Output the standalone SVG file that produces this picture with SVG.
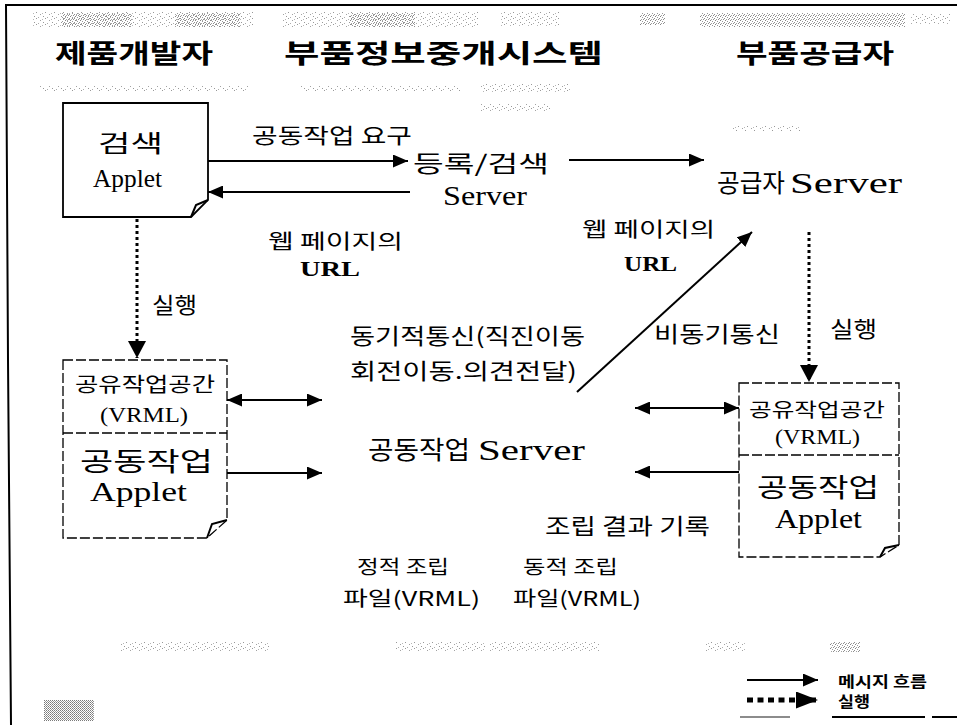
<svg xmlns="http://www.w3.org/2000/svg" width="957" height="725" viewBox="0 0 957 725">
<style>
.k{font-family:'Noto Sans CJK KR','Noto Sans CJK SC',sans-serif;fill:#000;dominant-baseline:central}
.s{font-family:'Liberation Serif','Times New Roman',serif;fill:#000}
.h{font-size:26px;font-weight:700}
.ln{stroke:#000;stroke-width:2;fill:none}
.dot{stroke:#000;stroke-width:3;fill:none;stroke-dasharray:3 3}
.box{fill:#fff;stroke:#000;stroke-width:1.8}
.dbox{fill:#fff;stroke:#000;stroke-width:1.3;stroke-dasharray:10 3}
.nz{fill:url(#noise)}
.nd{fill:url(#noise2)}
</style>
<defs>
<pattern id="noise" width="9" height="6" patternUnits="userSpaceOnUse">
<rect x="0" y="0" width="1" height="1" fill="#555"/>
<rect x="4" y="2" width="1" height="1" fill="#666"/>
<rect x="7" y="4" width="1" height="1" fill="#555"/>
<rect x="2" y="5" width="1" height="1" fill="#777"/>
<rect x="6" y="1" width="1" height="1" fill="#888"/>
</pattern>
<pattern id="noise2" width="5" height="4" patternUnits="userSpaceOnUse">
<rect x="0" y="0" width="1" height="1" fill="#333"/>
<rect x="2" y="1" width="1" height="1" fill="#555"/>
<rect x="4" y="2" width="1" height="1" fill="#444"/>
<rect x="1" y="3" width="1" height="1" fill="#666"/>
<rect x="3" y="3" width="1" height="1" fill="#444"/>
</pattern>
<pattern id="noise3" width="2" height="2" patternUnits="userSpaceOnUse">
<rect x="0" y="0" width="1" height="1" fill="#222"/>
<rect x="1" y="1" width="1" height="1" fill="#555"/>
</pattern>
<marker id="ah" viewBox="0 0 15 13" refX="15" refY="6.5" markerWidth="15" markerHeight="13" markerUnits="userSpaceOnUse" orient="auto-start-reverse">
<path d="M0,0 L15,6.5 L0,13 Z" fill="#000"/>
</marker>
<marker id="dh" viewBox="0 0 17 18" refX="17" refY="9" markerWidth="17" markerHeight="18" markerUnits="userSpaceOnUse" orient="auto">
<path d="M0,0 L17,9 L0,18 Z" fill="#000"/>
</marker>
<marker id="lh" viewBox="0 0 22 17" refX="22" refY="8.5" markerWidth="22" markerHeight="17" markerUnits="userSpaceOnUse" orient="auto">
<path d="M0,0 L22,8.5 L0,17 Z" fill="#000"/>
</marker>
</defs>
<rect width="957" height="725" fill="#fff"/>

<g id="scan-noise" opacity="0.6">
<rect class="nz" x="33" y="12" width="220" height="16"/>
<rect class="nd" x="62" y="13" width="70" height="14"/>
<rect class="nd" x="175" y="13" width="65" height="14"/>
<rect class="nz" x="283" y="12" width="195" height="16"/>
<rect class="nd" x="350" y="13" width="65" height="14"/>
<rect class="nz" x="500" y="12" width="60" height="14"/>
<rect class="nd" x="640" y="13" width="25" height="12"/>
<rect class="nd" x="700" y="13" width="205" height="14"/>
<rect class="nz" x="910" y="14" width="40" height="10"/>
<rect class="nz" x="40" y="86" width="210" height="5"/>
<rect class="nz" x="300" y="86" width="160" height="5"/>
<rect class="nz" x="480" y="84" width="90" height="8"/>
<rect class="nz" x="480" y="104" width="70" height="8"/>
<rect class="nz" x="730" y="126" width="70" height="5"/>
<rect class="nz" x="120" y="642" width="150" height="10"/>
<rect class="nz" x="395" y="642" width="90" height="10"/>
<rect class="nz" x="490" y="642" width="110" height="10"/>
<rect class="nz" x="705" y="642" width="40" height="10"/>
<rect class="nd" x="830" y="642" width="30" height="10"/>
<rect x="44" y="700" width="50" height="21" fill="url(#noise3)"/>
</g>

<g id="frame">
<path d="M5,5 H957" class="ln" stroke-width="3"/>
<path d="M6,5 L8,360 L11,725" class="ln" stroke-width="3"/>
<path d="M740,717 H790" stroke="#666" stroke-width="1.5"/>
<path d="M832,717 H925 M932,717 H957" stroke="#000" stroke-width="2"/>
</g>

<g id="headers">
<text class="k h" x="55" y="51" textLength="158" lengthAdjust="spacingAndGlyphs">제품개발자</text>
<text class="k h" x="284" y="51" textLength="319" lengthAdjust="spacingAndGlyphs">부품정보중개시스템</text>
<text class="k h" x="736" y="51" textLength="158" lengthAdjust="spacingAndGlyphs">부품공급자</text>
</g>

<g id="search-applet">
<path class="box" d="M63,103 H208 V200 L191,217 H63 Z"/>
<path class="ln" stroke-width="1.3" d="M191,217 L196,205 L208,200"/>
<text class="k" x="98" y="141" font-size="24" textLength="65" lengthAdjust="spacingAndGlyphs">검색</text>
<text class="s" x="93" y="187" font-size="26" textLength="69" lengthAdjust="spacingAndGlyphs">Applet</text>
</g>

<g id="reg-server">
<text class="k" x="413" y="162" font-size="23" textLength="136" lengthAdjust="spacingAndGlyphs">등록/검색</text>
<text class="s" x="443" y="205" font-size="28" textLength="84" lengthAdjust="spacingAndGlyphs">Server</text>
</g>

<g id="supplier-server">
<text class="k" x="717" y="181" font-size="25" textLength="68" lengthAdjust="spacingAndGlyphs">공급자</text>
<text class="s" x="790" y="193" font-size="30" textLength="112" lengthAdjust="spacingAndGlyphs">Server</text>
</g>

<g id="collab-server">
<text class="k" x="368" y="448" font-size="25" textLength="102" lengthAdjust="spacingAndGlyphs">공동작업</text>
<text class="s" x="478" y="460" font-size="30" textLength="107" lengthAdjust="spacingAndGlyphs">Server</text>
</g>

<g id="dev-workspace">
<path class="dbox" d="M63,360 H227 V520 L207,538 H63 Z"/>
<path class="dbox" d="M63,433 H227"/>
<path class="ln" stroke-width="1.3" d="M207,538 L212,524 L227,520"/>
<text class="k" x="75" y="383" font-size="20" textLength="140" lengthAdjust="spacingAndGlyphs">공유작업공간</text>
<text class="s" x="100" y="422" font-size="21" textLength="88" lengthAdjust="spacingAndGlyphs">(VRML)</text>
<text class="k" x="80" y="459" font-size="26" textLength="133" lengthAdjust="spacingAndGlyphs">공동작업</text>
<text class="s" x="90" y="501" font-size="28" textLength="97" lengthAdjust="spacingAndGlyphs">Applet</text>
</g>

<g id="sup-workspace">
<path class="dbox" d="M739,383 H899 V545 L880,557 H739 Z"/>
<path class="dbox" d="M739,455 H899"/>
<path class="ln" stroke-width="1.3" d="M880,557 L885,548 L899,545"/>
<text class="k" x="749" y="408" font-size="19" textLength="136" lengthAdjust="spacingAndGlyphs">공유작업공간</text>
<text class="s" x="775" y="444" font-size="20" textLength="85" lengthAdjust="spacingAndGlyphs">(VRML)</text>
<text class="k" x="757" y="485" font-size="26" textLength="122" lengthAdjust="spacingAndGlyphs">공동작업</text>
<text class="s" x="775" y="528" font-size="27" textLength="87" lengthAdjust="spacingAndGlyphs">Applet</text>
</g>

<g id="connectors">
<path class="ln" d="M208,161 H408" marker-end="url(#ah)"/>
<path class="ln" d="M410,192 H208" marker-end="url(#ah)"/>
<path class="ln" d="M569,160 H704" marker-end="url(#ah)"/>
<path class="ln" d="M577,392 L752,232" marker-end="url(#ah)"/>
<path class="dot" d="M137,219 V358" marker-end="url(#dh)"/>
<path class="dot" d="M809,232 V382" marker-end="url(#dh)"/>
<path class="ln" d="M227,400 H322" marker-start="url(#ah)" marker-end="url(#ah)"/>
<path class="ln" d="M227,473 H322" marker-end="url(#ah)"/>
<path class="ln" d="M635,408 H739" marker-start="url(#ah)" marker-end="url(#ah)"/>
<path class="ln" d="M739,472 H635" marker-end="url(#ah)"/>
</g>

<g id="labels">
<text class="k" x="252" y="134" font-size="21" textLength="160" lengthAdjust="spacingAndGlyphs">공동작업 요구</text>
<text class="k" x="268" y="240" font-size="20" textLength="135" lengthAdjust="spacingAndGlyphs">웹 페이지의</text>
<text class="s" x="300" y="276" font-size="21" font-weight="700" textLength="60" lengthAdjust="spacingAndGlyphs">URL</text>
<text class="k" x="582" y="228" font-size="20" textLength="133" lengthAdjust="spacingAndGlyphs">웹 페이지의</text>
<text class="s" x="624" y="271" font-size="21" font-weight="700" textLength="53" lengthAdjust="spacingAndGlyphs">URL</text>
<text class="k" x="152" y="303" font-size="22" textLength="45" lengthAdjust="spacingAndGlyphs">실행</text>
<text class="k" x="830" y="327" font-size="22" textLength="47" lengthAdjust="spacingAndGlyphs">실행</text>
<text class="k" x="350" y="334" font-size="22" textLength="235" lengthAdjust="spacingAndGlyphs">동기적통신(직진이동</text>
<text class="k" x="350" y="369" font-size="22" textLength="227" lengthAdjust="spacingAndGlyphs">회전이동.의견전달)</text>
<text class="k" x="654" y="332" font-size="22" textLength="126" lengthAdjust="spacingAndGlyphs">비동기통신</text>
<text class="k" x="545" y="524" font-size="22" textLength="165" lengthAdjust="spacingAndGlyphs">조립 결과 기록</text>
<text class="k" x="357" y="565" font-size="19" textLength="92" lengthAdjust="spacingAndGlyphs">정적 조립</text>
<text class="k" x="343" y="597" font-size="20" textLength="137" lengthAdjust="spacingAndGlyphs">파일(VRML)</text>
<text class="k" x="523" y="565" font-size="19" textLength="95" lengthAdjust="spacingAndGlyphs">동적 조립</text>
<text class="k" x="513" y="597" font-size="20" textLength="128" lengthAdjust="spacingAndGlyphs">파일(VRML)</text>
</g>

<g id="legend">
<path class="ln" d="M747,680 H818" marker-end="url(#ah)"/>
<text class="k" x="838" y="680" font-size="15" font-weight="700" textLength="89" lengthAdjust="spacingAndGlyphs">메시지 흐름</text>
<path stroke="#000" stroke-width="5" stroke-dasharray="6 4.5" fill="none" d="M747,700 H818" marker-end="url(#lh)"/>
<text class="k" x="838" y="700" font-size="15" font-weight="700" textLength="32" lengthAdjust="spacingAndGlyphs">실행</text>
</g>
</svg>
